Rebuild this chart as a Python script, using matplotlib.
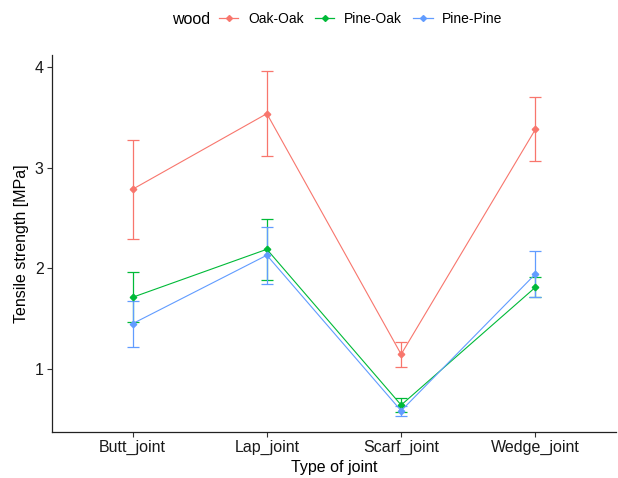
import numpy as np
import matplotlib
matplotlib.use("Agg")
import matplotlib.pyplot as plt

plt.rcParams['font.family'] = ['Liberation Sans', 'DejaVu Sans']

# data
joints = ['Butt_joint', 'Lap_joint', 'Scarf_joint', 'Wedge_joint']
woods = ['Oak-Oak', 'Pine-Oak', 'Pine-Pine']
colors = ['#F8766D', '#00BA38', '#619CFF']

oak_oak = [2.785, 3.536, 1.146, 3.381]
oak_oak_err = [0.49, 0.42, 0.124, 0.316]

pine_oak = [1.712, 2.189, 0.642, 1.812]
pine_oak_err = [0.25, 0.303, 0.065, 0.097]

pine_pine = [1.45, 2.13, 0.585, 1.944]
pine_pine_err = [0.23, 0.283, 0.05, 0.232]

means = [oak_oak, pine_oak, pine_pine]
errs = [oak_oak_err, pine_oak_err, pine_pine_err]

fig = plt.figure(figsize=(6.18, 4.78), dpi=100)
ax = fig.add_axes([0.0841, 0.0962, 0.9127, 0.7888])

x = np.arange(1, len(joints) + 1)
handles = []
for m, e, c, lab in zip(means, errs, colors, woods):
    ax.errorbar(x, m, yerr=e, color=c, lw=0.8, elinewidth=0.9,
                capsize=4.3, capthick=0.9, marker='D', ms=3.3, label=lab)
    h, = ax.plot([], [], color=c, lw=0.9, marker='D', ms=3.0)
    handles.append(h)

ax.set_xlim(0.4, 4.6)
ax.set_ylim(0.374, 4.119)
ax.set_xticks(x)
ax.set_xticklabels(joints)
ax.set_yticks([1, 2, 3, 4])
ax.tick_params(labelsize=11.5, length=3.5, width=0.8, color='#333333',
               labelcolor='#1a1a1a', pad=2.5)
for s in ['top', 'right']:
    ax.spines[s].set_visible(False)
for s in ['left', 'bottom']:
    ax.spines[s].set_linewidth(0.9)
    ax.spines[s].set_color('#222222')

ax.set_xlabel('Type of joint', fontsize=11.5, labelpad=3.5)
ax.set_ylabel('Tensile strength [MPa]', fontsize=11.5, labelpad=4)

fig.text(172 / 618, 1 - 19 / 478, 'wood', fontsize=11.5, va='center', ha='left')
fig.legend(handles, woods, loc='center left', bbox_to_anchor=(219 / 618, 1 - 19 / 478),
           ncol=3, frameon=False, fontsize=10, handlelength=1.4,
           handletextpad=0.7, columnspacing=0.8, borderaxespad=0, borderpad=0)

fig.savefig('out.png', dpi=100)
